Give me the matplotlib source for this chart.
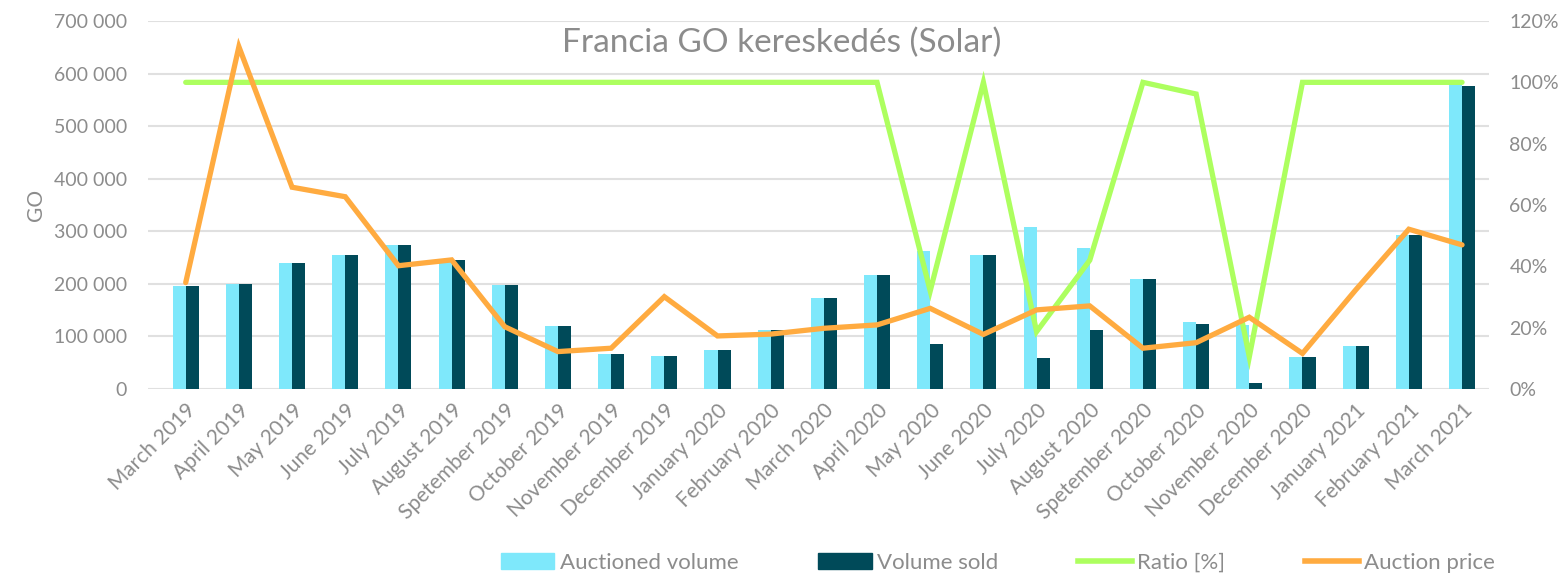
import matplotlib
matplotlib.use('Agg')
import matplotlib.pyplot as plt
from matplotlib.ticker import FuncFormatter, PercentFormatter
from matplotlib.patches import Patch
from matplotlib.lines import Line2D
import numpy as np

plt.rcParams['font.family'] = ['Lato', 'DejaVu Sans']

months = ['March 2019', 'April 2019', 'May 2019', 'June 2019', 'July 2019',
          'August 2019', 'Spetember 2019', 'October 2019', 'November 2019',
          'December 2019', 'January 2020', 'February 2020', 'March 2020',
          'April 2020', 'May 2020', 'June 2020', 'July 2020', 'August 2020',
          'Spetember 2020', 'October 2020', 'November 2020', 'December 2020',
          'January 2021', 'February 2021', 'March 2021']

auctioned = [195000, 200000, 240000, 254000, 273000, 245000, 197000, 119000,
             67000, 63000, 75000, 112000, 173000, 217000, 263000, 255000,
             308000, 268000, 210000, 127000, 122000, 60000, 82000, 293000,
             582000]
sold = [195000, 200000, 240000, 254000, 273000, 245000, 197000, 119000,
        67000, 63000, 75000, 112000, 173000, 217000, 85000, 255000,
        59000, 112000, 210000, 123000, 12000, 60000, 82000, 293000,
        577000]
ratio = [1.0, 1.0, 1.0, 1.0, 1.0, 1.0, 1.0, 1.0, 1.0, 1.0, 1.0, 1.0, 1.0,
         1.0, 0.32, 1.0, 0.187, 0.42, 1.0, 0.962, 0.105, 1.0, 1.0, 1.0, 1.0]
price = [0.347, 1.116, 0.658, 0.627, 0.402, 0.421, 0.203, 0.122, 0.133,
         0.301, 0.173, 0.179, 0.198, 0.209, 0.263, 0.178, 0.258, 0.271,
         0.133, 0.151, 0.234, 0.116, 0.323, 0.521, 0.470]

C_LIGHT = '#7ee8fb'
C_DARK = '#004a59'
C_GREEN = '#adff5f'
C_ORANGE = '#ffab40'
C_TEXT = '#8c8c8c'
C_GRID = '#e0e0e0'

fig = plt.figure(figsize=(15.64, 5.74), dpi=100)
ax = fig.add_axes([0.0946, 0.3223, 0.8572, 0.6411])
ax2 = ax.twinx()

x = np.arange(len(months))
w = 0.245
ax.bar(x - w / 2, auctioned, width=w, color=C_LIGHT, zorder=2)
ax.bar(x + w / 2, sold, width=w, color=C_DARK, zorder=2)

# gridlines start a bit left of the first category, like the original
ax.set_xlim(-0.71, len(months) - 0.5)
ax.set_ylim(0, 700000)
ax.set_yticks(np.arange(0, 700001, 100000))
ax.yaxis.set_major_formatter(FuncFormatter(lambda v, p: '{:,.0f}'.format(v).replace(',', ' ')))
ax.grid(axis='y', color=C_GRID, linewidth=1.5, zorder=0)
ax.set_axisbelow(True)
ax.set_xticks(x)
ax.set_xticklabels(months, rotation=45, ha='right', rotation_mode='anchor')
ax.tick_params(axis='y', length=0, labelsize=14, colors=C_TEXT, pad=15)
ax.tick_params(axis='x', length=0, labelsize=15, colors=C_TEXT, pad=8)
ax.set_ylabel('GO', fontsize=15, color=C_TEXT, labelpad=6)

ax2.plot(x, ratio, color=C_GREEN, linewidth=3.8, solid_capstyle='round',
         solid_joinstyle='miter', zorder=3)
ax2.plot(x, price, color=C_ORANGE, linewidth=3.8, solid_capstyle='round',
         solid_joinstyle='miter', zorder=4)
ax2.set_ylim(0, 1.2)
ax2.set_yticks(np.arange(0, 1.21, 0.2))
ax2.yaxis.set_major_formatter(PercentFormatter(1.0, decimals=0))
ax2.tick_params(axis='y', length=0, labelsize=14, colors=C_TEXT, pad=15)

for a in (ax, ax2):
    for s in a.spines.values():
        s.set_visible(False)

fig.text(0.5, 0.925, 'Francia GO kereskedés (Solar)', ha='center', va='center',
         fontsize=24, color=C_TEXT)

handles = [Patch(color=C_LIGHT), Patch(color=C_DARK),
           Line2D([0], [0], color=C_GREEN, lw=4),
           Line2D([0], [0], color=C_ORANGE, lw=4)]
labels = ['Auctioned volume', 'Volume sold', 'Ratio [%]', 'Auction price']
fig.legend(handles, labels, loc='center', bbox_to_anchor=(0.638, 0.02),
           ncol=4, frameon=False, fontsize=16, labelcolor=C_TEXT,
           columnspacing=3.6, handlelength=2.4, handletextpad=0.25)

fig.savefig('out.png', dpi=100)
